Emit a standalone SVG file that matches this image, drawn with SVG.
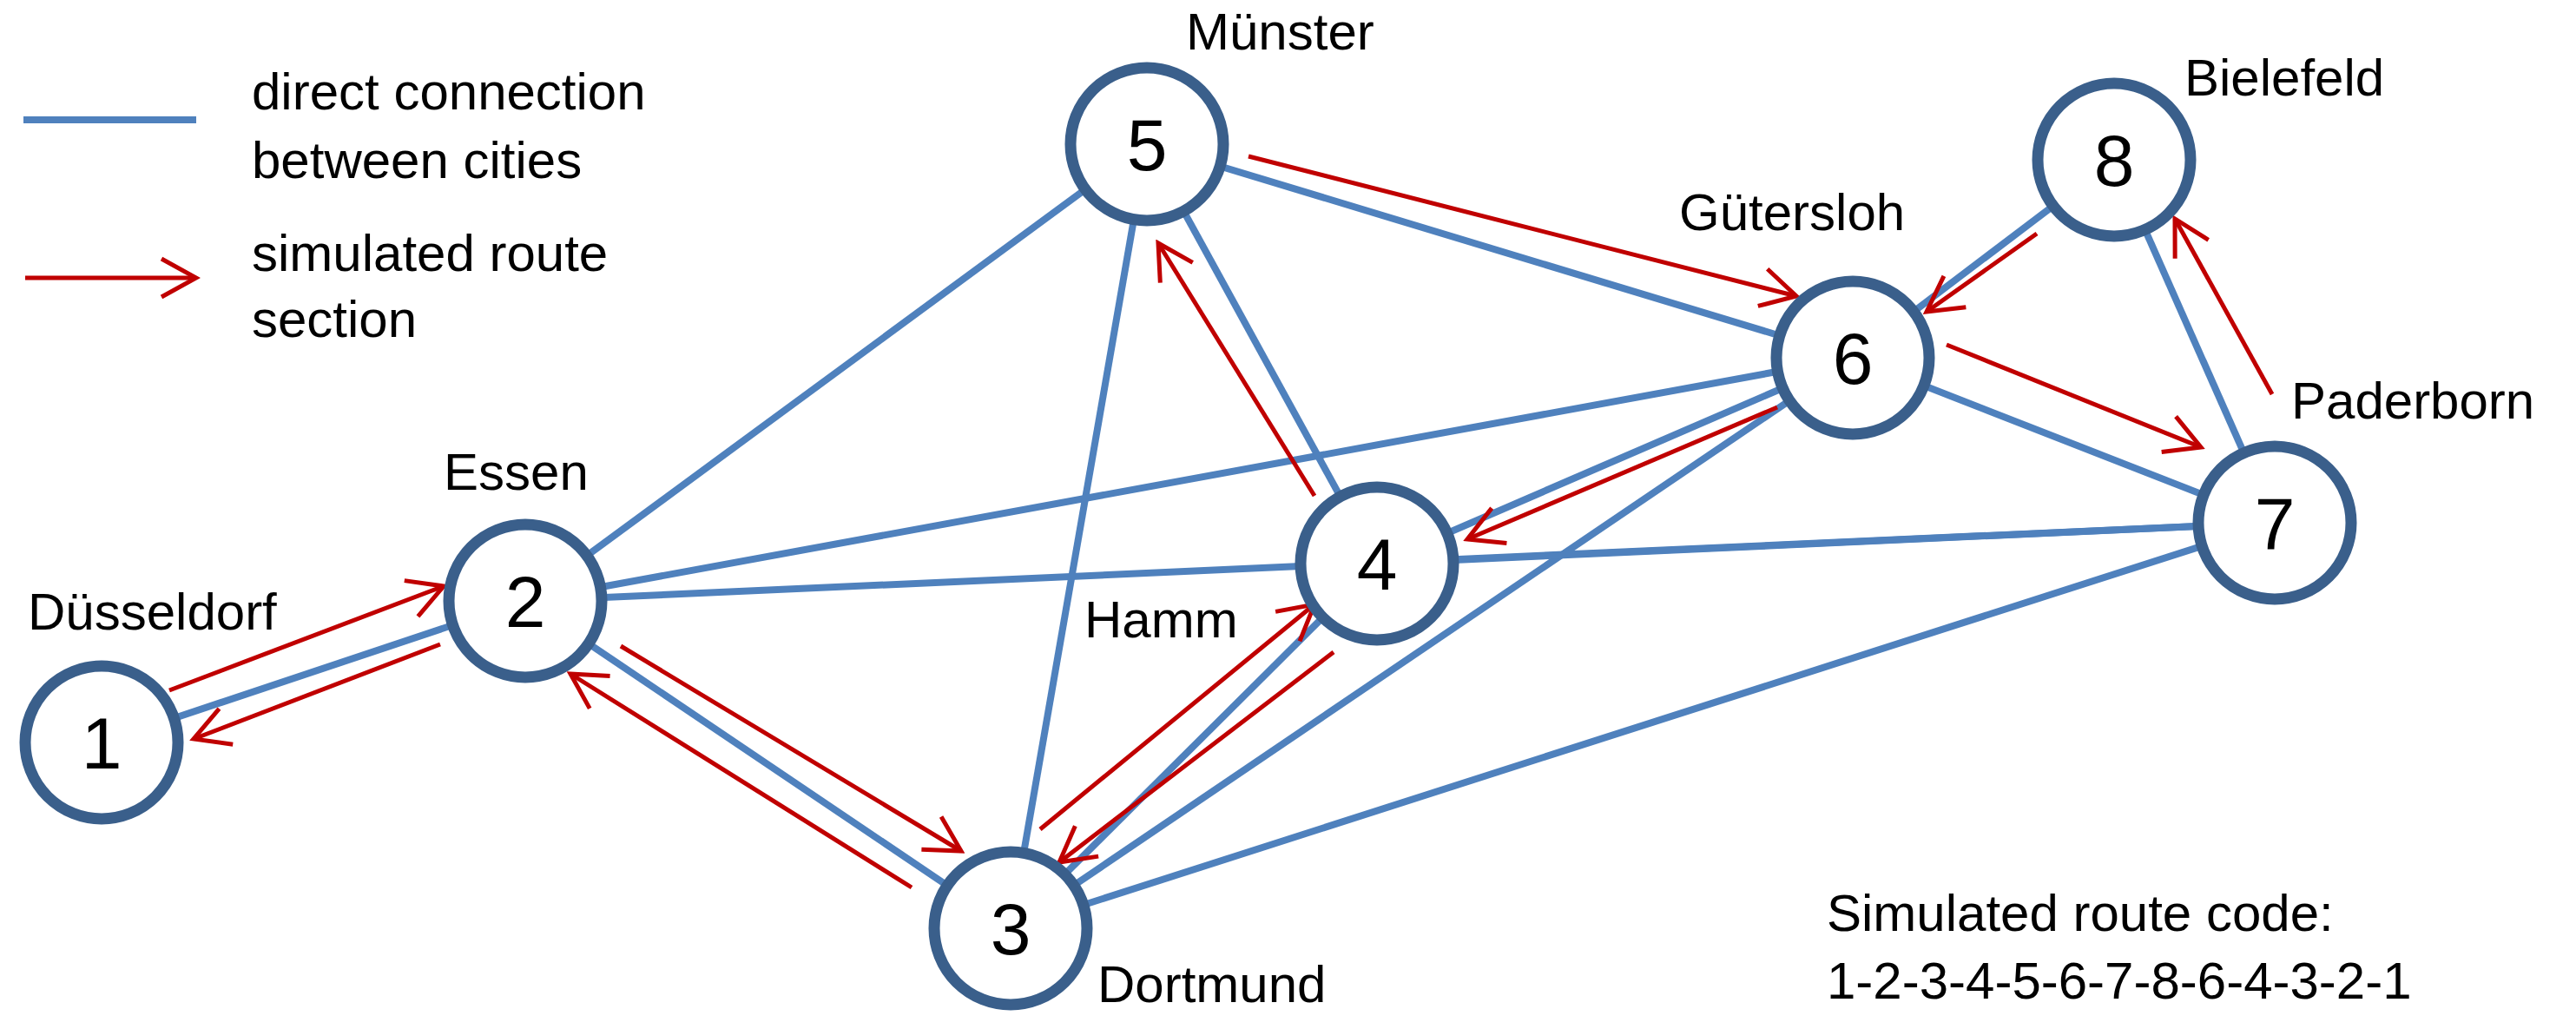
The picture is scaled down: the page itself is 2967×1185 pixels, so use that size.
<svg xmlns="http://www.w3.org/2000/svg" width="2967" height="1185" viewBox="0 0 2967 1185">
<style>
.e{stroke:#4F81BD;stroke-width:8;fill:none}
.r{stroke:#C00000;stroke-width:5;fill:none;marker-end:url(#ah)}
.n{fill:#fff;stroke:#3A5F8B;stroke-width:13}
.t{font-family:"Liberation Sans",Arial,sans-serif;font-size:60px;fill:#000}
.num{font-family:"Liberation Sans",Arial,sans-serif;font-size:84px;fill:#000;text-anchor:middle}
</style>
<defs>
<marker id="ah" markerUnits="userSpaceOnUse" markerWidth="50" markerHeight="50" viewBox="-45 -25 50 50" refX="0" refY="0" orient="auto">
<path d="M-40,-22 L0,0 L-40,22" fill="none" stroke="#C00000" stroke-width="5"/>
</marker>
</defs>
<rect width="2967" height="1185" fill="#fff"/>
<g id="legend">
<line x1="27" y1="138" x2="226" y2="138" class="e"/>
<line x1="29" y1="320" x2="226" y2="320" class="r"/>
<text x="290" y="126" class="t">direct connection</text>
<text x="290" y="205" class="t">between cities</text>
<text x="290" y="312" class="t">simulated route</text>
<text x="290" y="388" class="t">section</text>
</g>
<g id="connectors">
<line x1="117" y1="855" x2="605" y2="692" class="e"/>
<line x1="605" y1="692" x2="1164" y2="1069" class="e"/>
<line x1="605" y1="692" x2="1321" y2="166" class="e"/>
<line x1="605" y1="692" x2="2134" y2="412" class="e"/>
<line x1="605" y1="692" x2="2620" y2="602" class="e"/>
<line x1="1164" y1="1069" x2="1321" y2="166" class="e"/>
<line x1="1164" y1="1069" x2="1586" y2="649" class="e"/>
<line x1="1164" y1="1069" x2="2134" y2="412" class="e"/>
<line x1="1164" y1="1069" x2="2620" y2="602" class="e"/>
<line x1="1586" y1="649" x2="1321" y2="166" class="e"/>
<line x1="1586" y1="649" x2="2134" y2="412" class="e"/>
<line x1="1586" y1="649" x2="2620" y2="602" class="e"/>
<line x1="1321" y1="166" x2="2134" y2="412" class="e"/>
<line x1="2134" y1="412" x2="2435" y2="184" class="e"/>
<line x1="2134" y1="412" x2="2620" y2="602" class="e"/>
<line x1="2620" y1="602" x2="2435" y2="184" class="e"/>
<line x1="195" y1="795" x2="511" y2="675" class="r"/>
<line x1="507" y1="742" x2="223" y2="851" class="r"/>
<line x1="715" y1="744" x2="1107" y2="980" class="r"/>
<line x1="1050" y1="1022" x2="657" y2="776" class="r"/>
<line x1="1198" y1="955" x2="1514" y2="696" class="r"/>
<line x1="1536" y1="751" x2="1220" y2="993" class="r"/>
<line x1="1514" y1="571" x2="1334" y2="280" class="r"/>
<line x1="1438" y1="180" x2="2069" y2="341" class="r"/>
<line x1="2242" y1="397" x2="2535" y2="515" class="r"/>
<line x1="2617" y1="454" x2="2505" y2="252" class="r"/>
<line x1="2346" y1="269" x2="2219" y2="359" class="r"/>
<line x1="2047" y1="469" x2="1690" y2="621" class="r"/>
</g>
<g id="n1"><circle cx="117" cy="855" r="88" class="n"/><text x="117" y="885" class="num">1</text><text x="32" y="725" class="t">Düsseldorf</text></g>
<g id="n2"><circle cx="605" cy="692" r="88" class="n"/><text x="605" y="722" class="num">2</text><text x="511" y="564" class="t">Essen</text></g>
<g id="n3"><circle cx="1164" cy="1069" r="88" class="n"/><text x="1164" y="1099" class="num">3</text><text x="1264" y="1154" class="t">Dortmund</text></g>
<g id="n4"><circle cx="1586" cy="649" r="88" class="n"/><text x="1586" y="679" class="num">4</text><text x="1249" y="734" class="t">Hamm</text></g>
<g id="n5"><circle cx="1321" cy="166" r="88" class="n"/><text x="1321" y="196" class="num">5</text><text x="1366" y="57" class="t">Münster</text></g>
<g id="n6"><circle cx="2134" cy="412" r="88" class="n"/><text x="2134" y="442" class="num">6</text><text x="1934" y="265" class="t">Gütersloh</text></g>
<g id="n7"><circle cx="2620" cy="602" r="88" class="n"/><text x="2620" y="632" class="num">7</text><text x="2639" y="482" class="t">Paderborn</text></g>
<g id="n8"><circle cx="2435" cy="184" r="88" class="n"/><text x="2435" y="214" class="num">8</text><text x="2516" y="110" class="t">Bielefeld</text></g>
<g id="code">
<text x="2104" y="1072" class="t">Simulated route code:</text>
<text x="2104" y="1150" class="t">1-2-3-4-5-6-7-8-6-4-3-2-1</text>
</g>
</svg>
